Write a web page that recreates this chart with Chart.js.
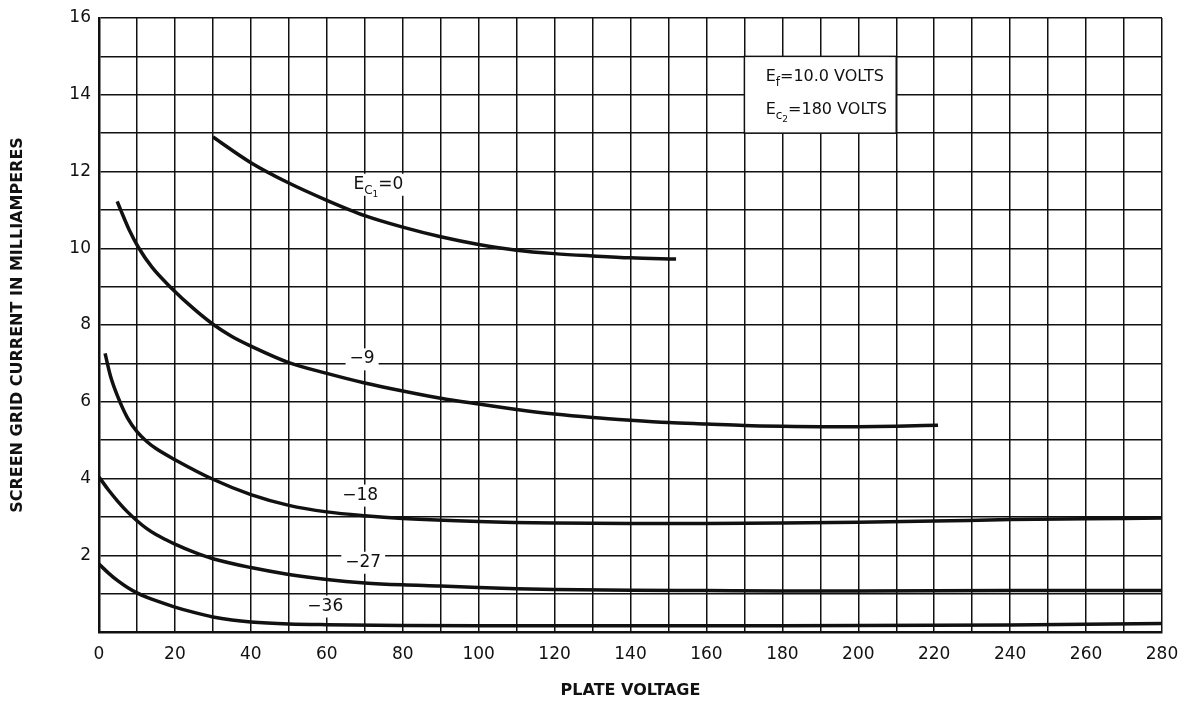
<!DOCTYPE html>
<html>
<head>
<meta charset="utf-8">
<script src="https://cdn.jsdelivr.net/npm/chart.js@4/dist/chart.umd.min.js"></script>
<style>
  html, body { margin: 0; background: #fff; }
</style>
</head>
<body>
<canvas id="chart" width="1187" height="704"></canvas>
<script>
/* Screen grid current vs plate voltage */

// E_c1 = 0
const ec0Volts = [30, 40, 50, 60, 70, 80, 90, 100, 110, 120, 130, 140, 152];
const ec0Amps = [12.9, 12.23, 11.7, 11.25, 10.85, 10.55, 10.3, 10.1, 9.95, 9.86, 9.8, 9.75, 9.72];

// E_c1 = -9
const ec9Volts = [4.8, 5.7, 8, 10.4, 14, 18.9, 25, 30.3, 35, 40, 50, 60, 70, 80, 90, 100, 110, 120, 130, 140, 150, 160, 170, 180, 190, 200, 210, 221];
const ec9Amps = [11.22, 11.0, 10.47, 10.02, 9.5, 8.98, 8.42, 8.0, 7.7, 7.45, 7.02, 6.74, 6.49, 6.28, 6.09, 5.94, 5.8, 5.68, 5.59, 5.52, 5.46, 5.42, 5.38, 5.36, 5.35, 5.35, 5.36, 5.39];

// E_c1 = -18
const ec18Volts = [1.6, 3, 5, 7.5, 10, 12.5, 15, 20, 30, 40, 50, 60, 70, 80, 100, 120, 140, 160, 180, 200, 220, 240, 260, 280];
const ec18Amps = [7.26, 6.68, 6.12, 5.58, 5.22, 4.97, 4.78, 4.49, 3.98, 3.58, 3.3, 3.13, 3.03, 2.96, 2.88, 2.84, 2.83, 2.83, 2.84, 2.86, 2.89, 2.93, 2.95, 2.97];

// E_c1 = -27
const ec27Volts = [0, 2.5, 5, 7.5, 10, 12.5, 15, 17.5, 20, 25, 30, 40, 50, 60, 70, 80, 90, 100, 110, 120, 140, 160, 180, 200, 240, 280];
const ec27Amps = [4.04, 3.7, 3.4, 3.13, 2.9, 2.7, 2.54, 2.41, 2.29, 2.08, 1.91, 1.68, 1.5, 1.37, 1.28, 1.23, 1.2, 1.16, 1.13, 1.11, 1.09, 1.08, 1.07, 1.07, 1.08, 1.08];

// E_c1 = -36
const ec36Volts = [0, 2.5, 5, 7.5, 10, 12.5, 15, 20, 25, 30, 35, 40, 50, 60, 80, 100, 140, 180, 240, 280];
const ec36Amps = [1.77, 1.535, 1.33, 1.16, 1.02, 0.91, 0.815, 0.65, 0.51, 0.39, 0.31, 0.26, 0.21, 0.19, 0.17, 0.16, 0.16, 0.16, 0.18, 0.22];

const xTickLabels = [0, 20, 40, 60, 80, 100, 120, 140, 160, 180, 200, 220, 240, 260, 280];
const yTickLabels = [2, 4, 6, 8, 10, 12, 14, 16];

const FONT = "'DejaVu Sans', sans-serif";
const INK = "#111";

function toPoints(xs, ys) {
  return xs.map((x, i) => ({ x: x, y: ys[i] }));
}

function curve(xs, ys) {
  return {
    data: toPoints(xs, ys),
    borderColor: INK,
    borderWidth: 3.5,
    pointRadius: 0,
    fill: false,
    showLine: true,
    cubicInterpolationMode: "monotone",
  };
}

// text pieces: [text, fontSize, baseline shift]
function drawPieces(ctx, left, baseY, pieces) {
  let x = left;
  pieces.forEach(([t, size, dy]) => {
    ctx.font = `${size}px ${FONT}`;
    ctx.fillText(t, x, baseY + dy);
    x += ctx.measureText(t).width;
  });
  return x - left;
}

function piecesWidth(ctx, pieces) {
  let w = 0;
  pieces.forEach(([t, size]) => {
    ctx.font = `${size}px ${FONT}`;
    w += ctx.measureText(t).width;
  });
  return w;
}

// curve labels: [voltage, current, pieces]
const curveLabels = [
  [73.6, 11.55, [["E", 17, 0], ["C", 12, 5], ["1", 9, 8], ["=0", 17, 0]]],
  [69.3, 7.0, [["\u22129", 17, 0]]],
  [68.8, 3.45, [["\u221218", 17, 0]]],
  [69.6, 1.7, [["\u221227", 17, 0]]],
  [59.6, 0.56, [["\u221236", 17, 0]]],
];

const noteBox = { x0: 170, x1: 210, y0: 13, y1: 15 };
const noteLines = [
  [175.6, 14.35, [["E", 16, 0], ["f", 12, 5], ["=10.0 VOLTS", 16, 0]]],
  [175.6, 13.5, [["E", 16, 0], ["c", 12, 5], ["2", 9, 8], ["=180 VOLTS", 16, 0]]],
];

const annotations = {
  id: "annotations",
  beforeDatasetsDraw(chart) {
    const { ctx, scales: { x, y } } = chart;
    ctx.save();
    // note box
    const bx = x.getPixelForValue(noteBox.x0);
    const by = y.getPixelForValue(noteBox.y1);
    const bw = x.getPixelForValue(noteBox.x1) - bx;
    const bh = y.getPixelForValue(noteBox.y0) - by;
    ctx.fillStyle = "#fff";
    ctx.fillRect(bx, by, bw, bh);
    ctx.strokeStyle = INK;
    ctx.lineWidth = 1.5;
    ctx.strokeRect(bx, by, bw, bh);
    ctx.fillStyle = INK;
    ctx.textBaseline = "alphabetic";
    ctx.textAlign = "left";
    noteLines.forEach(([v, a, pieces]) => {
      drawPieces(ctx, x.getPixelForValue(v), y.getPixelForValue(a), pieces);
    });
    // curve labels
    curveLabels.forEach(([v, a, pieces]) => {
      const w = piecesWidth(ctx, pieces);
      const cx = x.getPixelForValue(v);
      const base = y.getPixelForValue(a);
      ctx.fillStyle = "#fff";
      ctx.fillRect(cx - w / 2 - 4, base - 15, w + 8, 22);
      ctx.fillStyle = INK;
      drawPieces(ctx, cx - w / 2, base, pieces);
    });
    ctx.restore();
  },
};

new Chart(document.getElementById("chart"), {
  type: "scatter",
  data: {
    datasets: [
      curve(ec0Volts, ec0Amps),
      curve(ec9Volts, ec9Amps),
      curve(ec18Volts, ec18Amps),
      curve(ec27Volts, ec27Amps),
      curve(ec36Volts, ec36Amps),
    ],
  },
  options: {
    responsive: false,
    animation: false,
    devicePixelRatio: 1,
    layout: { padding: { top: 18, right: 25, left: 0, bottom: 0 } },
    plugins: {
      legend: { display: false },
      tooltip: { enabled: false },
    },
    scales: {
      x: {
        type: "linear",
        min: 0,
        max: 280,
        afterFit: (axis) => {
          axis.height = 72;
          axis.paddingLeft = 0;
          axis.paddingRight = 0;
        },
        ticks: {
          stepSize: 10,
          color: INK,
          padding: 12,
          maxRotation: 0,
          autoSkip: false,
          font: { family: FONT, size: 17 },
          callback: (v) => (xTickLabels.includes(v) ? String(v) : ""),
        },
        grid: { color: INK, lineWidth: 1.5, drawTicks: false },
        border: { color: INK, width: 2.5 },
        title: {
          display: true,
          text: "PLATE VOLTAGE",
          color: INK,
          font: { family: FONT, size: 16, weight: "bold" },
          padding: { top: 4, bottom: 4 },
        },
      },
      y: {
        type: "linear",
        min: 0,
        max: 16,
        afterFit: (axis) => {
          axis.width = 99;
          axis.paddingTop = 0;
          axis.paddingBottom = 0;
        },
        ticks: {
          stepSize: 1,
          color: INK,
          padding: 8,
          autoSkip: false,
          font: { family: FONT, size: 17 },
          callback: (v) => (yTickLabels.includes(v) ? String(v) : ""),
        },
        grid: { color: INK, lineWidth: 1.5, drawTicks: false },
        border: { color: INK, width: 2.5 },
        title: {
          display: true,
          text: "SCREEN GRID CURRENT IN MILLIAMPERES",
          color: INK,
          font: { family: FONT, size: 16, weight: "bold" },
          padding: { top: 8, bottom: 4 },
        },
      },
    },
  },
  plugins: [annotations],
});
</script>
</body>
</html>
